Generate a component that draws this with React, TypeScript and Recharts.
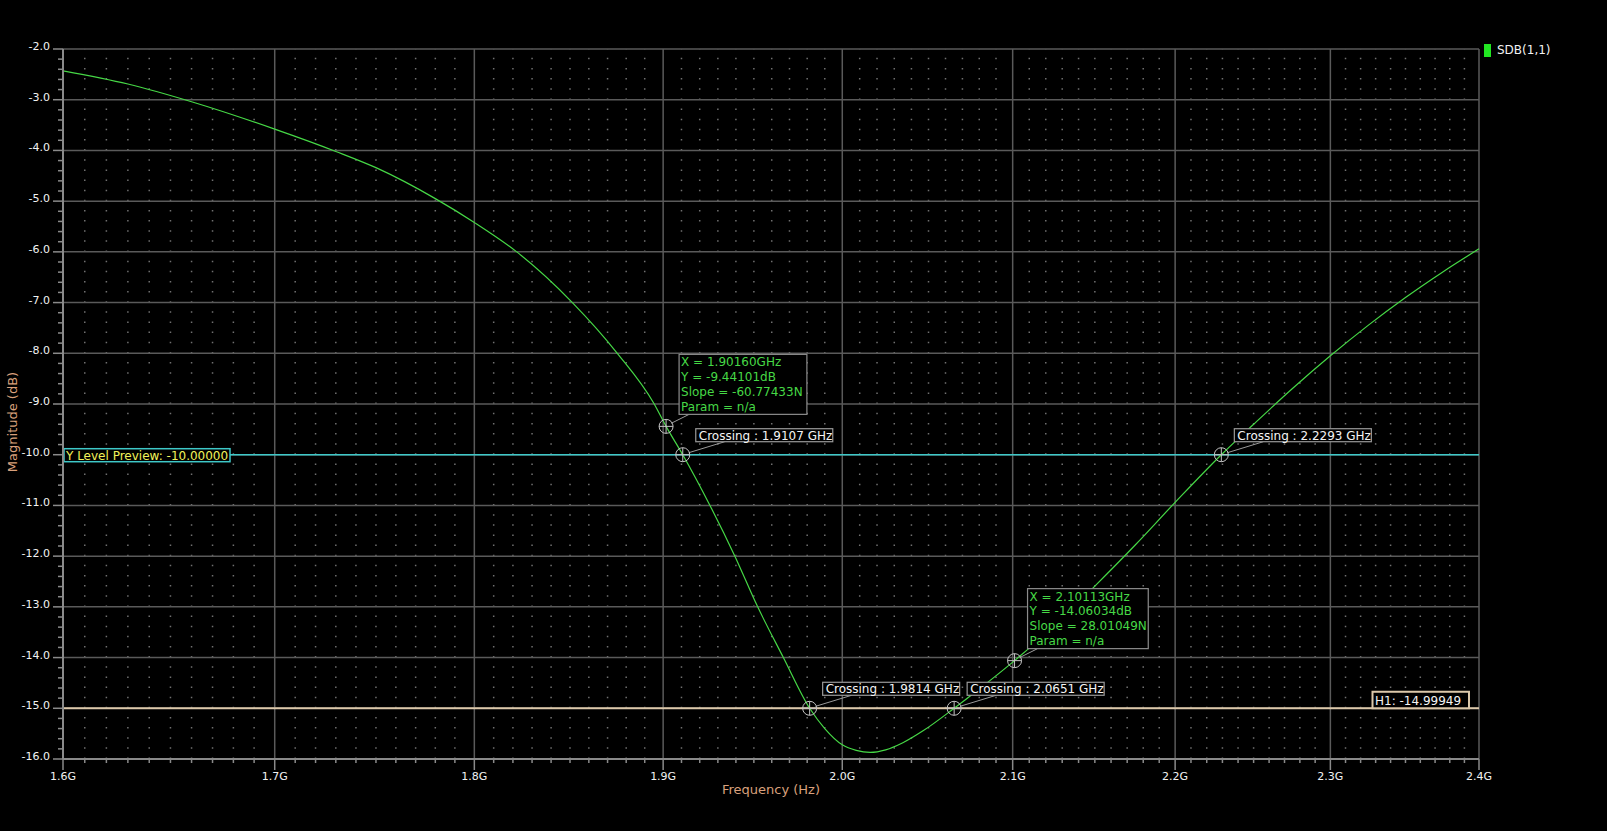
import React from 'react';
import { LineChart, Line, XAxis, YAxis, ReferenceLine, ReferenceDot } from 'recharts';

// ---- data ----
const freqGHz = [
  1.6, 1.63, 1.66, 1.7, 1.73, 1.75, 1.78, 1.8, 1.822, 1.851, 1.875, 1.895, 1.9016, 1.9107,
  1.9255, 1.9393, 1.952, 1.9664, 1.9814, 1.99, 2.0, 2.008, 2.016, 2.025, 2.035, 2.047, 2.0651,
  2.08, 2.10113, 2.125, 2.15, 2.175, 2.2, 2.2293, 2.25, 2.275, 2.3, 2.325, 2.35, 2.375, 2.4,
];
const sdb11 = [
  -2.43, -2.69, -3.04, -3.58, -4.02, -4.34, -4.95, -5.42, -6.0, -6.99, -7.99, -8.99, -9.441, -10.0,
  -10.99, -11.99, -12.99, -13.99, -15.0, -15.4, -15.72, -15.83, -15.87, -15.82, -15.68, -15.44, -15.0,
  -14.62, -14.06, -13.38, -12.59, -11.78, -10.94, -10.0, -9.4, -8.7, -8.05, -7.45, -6.9, -6.4, -5.94,
];

const xMajorTicks = [1.6, 1.7, 1.8, 1.9, 2.0, 2.1, 2.2, 2.3, 2.4];
const xTickLabels = ['1.6G', '1.7G', '1.8G', '1.9G', '2.0G', '2.1G', '2.2G', '2.3G', '2.4G'];
const yMajorTicks = [-2, -3, -4, -5, -6, -7, -8, -9, -10, -11, -12, -13, -14, -15, -16];
const yTickLabels = ['-2.0', '-3.0', '-4.0', '-5.0', '-6.0', '-7.0', '-8.0', '-9.0', '-10.0', '-11.0', '-12.0', '-13.0', '-14.0', '-15.0', '-16.0'];

const markerX = [1.9016, 2.10113];
const markerY = [-9.44101, -14.06034];
const markerSlope = ['-60.77433N', '28.01049N'];

const crossingX = [1.9107, 1.9814, 2.0651, 2.2293];
const crossingY = [-10, -15, -15, -10];
const crossingText = ['1.9107 GHz', '1.9814 GHz', '2.0651 GHz', '2.2293 GHz'];

const yLevel = -10;
const h1Level = -14.99949;
const seriesName = 'SDB(1,1)';

// minor tick values (grid subdivisions)
const xMinorTicks: number[] = [];
for (let i = 160; i <= 240; i++) if (i % 10 !== 0) xMinorTicks.push(i / 100);
const yMinorTicks: number[] = [];
for (let i = -80; i <= -10; i++) if (i % 5 !== 0) yMinorTicks.push(i / 5);

const xAllTicks = [...xMajorTicks, ...xMinorTicks].sort((a, b) => a - b);
const yAllTicks = [...yMajorTicks, ...yMinorTicks].sort((a, b) => a - b);

const data = freqGHz.map((f, i) => ({ f, v: sdb11[i] }));

const FONT = '"DejaVu Sans", sans-serif';
const AXIS = '#8a8a8a';
const GRID = '#5a5a5a';
const MINOR = '#707070';
const GREEN = '#46d846';
const TAN = '#d9a07c';

const findIdx = (arr: number[], v: number) => arr.findIndex((t) => Math.abs(t - v) < 1e-6);

const XTick = (props: any) => {
  const { x, y, payload } = props;
  const idx = findIdx(xMajorTicks, payload.value);
  const major = idx >= 0;
  return (
    <g>
      <line x1={x} x2={x} y1={y} y2={y + (major ? 11 : 4)} stroke={AXIS} strokeWidth={1.5} />
      {major && (
        <text x={x} y={y + 21} textAnchor="middle" fill="#f2f2f2" fontSize={11} fontFamily={FONT}>
          {xTickLabels[idx]}
        </text>
      )}
    </g>
  );
};

const YTick = (props: any) => {
  const { x, y, payload } = props;
  const idx = findIdx(yMajorTicks, payload.value);
  const major = idx >= 0;
  return (
    <g>
      <line x1={x} x2={x - (major ? 10 : 5)} y1={y} y2={y} stroke={AXIS} strokeWidth={1.5} />
      {major && (
        <text x={x - 13} y={y + 1} textAnchor="end" fill="#f2f2f2" fontSize={11} fontFamily={FONT}>
          {yTickLabels[idx]}
        </text>
      )}
    </g>
  );
};

const Crosshair = ({ cx, cy }: { cx: number; cy: number }) => (
  <g>
    <circle cx={cx} cy={cy} r={7} fill="none" stroke="#c4c4c4" strokeWidth={1} />
    <line x1={cx - 7} x2={cx + 7} y1={cy} y2={cy} stroke="#c4c4c4" strokeWidth={1} />
    <line x1={cx} x2={cx} y1={cy - 7} y2={cy + 7} stroke="#c4c4c4" strokeWidth={1} />
  </g>
);

const makeMarkerShape = (i: number) => (props: any) => {
  const { cx, cy } = props;
  const lines = [
    `X = ${markerX[i].toFixed(5)}GHz`,
    `Y = ${markerY[i].toFixed(5)}dB`,
    `Slope = ${markerSlope[i]}`,
    `Param = n/a`,
  ];
  const maxLen = Math.max(...lines.map((l) => l.length));
  const w = maxLen * 7.1;
  const bx = cx + 13;
  const by = cy - 72;
  const h = 60;
  return (
    <g>
      <line x1={cx + 5} y1={cy - 3} x2={cx + 23} y2={by + h} stroke="#9a9a9a" strokeWidth={1} />
      <rect x={bx} y={by} width={w} height={h} fill="#000" stroke="#8c8c8c" strokeWidth={1.2} />
      {lines.map((l, k) => (
        <text key={k} x={bx + 2} y={by + 12 + k * 14.8} fill={GREEN} fontSize={12} fontFamily={FONT}>
          {l}
        </text>
      ))}
      <Crosshair cx={cx} cy={cy} />
    </g>
  );
};

const makeCrossingShape = (i: number) => (props: any) => {
  const { cx, cy } = props;
  const bx = cx + 13;
  const by = cy - 26;
  return (
    <g>
      <line x1={cx + 6} y1={cy - 2} x2={cx + 42} y2={by + 13} stroke="#9a9a9a" strokeWidth={1} />
      <rect x={bx} y={by} width={137} height={13} fill="#000" stroke="#9a9a9a" strokeWidth={1.2} />
      <text x={bx + 3} y={by + 11} fill="#f4f4f4" fontSize={12} fontFamily={FONT}>
        {`Crossing : ${crossingText[i]}`}
      </text>
      <Crosshair cx={cx} cy={cy} />
    </g>
  );
};

const YLevelLabel = (props: any) => {
  const vb = props.viewBox || {};
  const left = Math.min(vb.x, vb.x + (vb.width || 0));
  const y = vb.y;
  return (
    <g>
      <rect x={left + 1} y={y - 6} width={166} height={13} fill="#000" stroke="#3ec8c8" strokeWidth={1.5} />
      <text x={left + 3} y={y + 5} fill="#f2f25a" fontSize={12} fontFamily={FONT}>
        {`Y Level Preview: ${yLevel.toFixed(5)}`}
      </text>
    </g>
  );
};

const H1Label = (props: any) => {
  const vb = props.viewBox || {};
  const right = Math.max(vb.x, vb.x + (vb.width || 0));
  const y = vb.y;
  return (
    <g>
      <rect x={right - 106.5} y={y - 16.5} width={96.5} height={16.5} fill="#000" stroke="#dcc8aa" strokeWidth={2} />
      <text x={right - 104} y={y - 3.5} fill="#f4f4f4" fontSize={12} fontFamily={FONT}>
        {`H1: ${h1Level.toFixed(5)}`}
      </text>
    </g>
  );
};

const YAxisTitle = (props: any) => {
  const vb = props.viewBox || {};
  const cy = vb.y + vb.height / 2 + 18;
  return (
    <text
      x={12.5}
      y={cy}
      transform={`rotate(-90 12.5 ${cy})`}
      textAnchor="middle"
      dominantBaseline="central"
      fill={TAN}
      fontSize={13}
      fontFamily={FONT}
    >
      Magnitude (dB)
    </text>
  );
};

const XAxisTitle = (props: any) => {
  const vb = props.viewBox || {};
  const cx = vb.x + vb.width / 2;
  return (
    <text x={cx} y={vb.y + 35} textAnchor="middle" fill={TAN} fontSize={13} fontFamily={FONT}>
      Frequency (Hz)
    </text>
  );
};

export default function App() {
  return (
    <div style={{ position: 'absolute', left: 0, top: 0, width: 1607, height: 831, background: '#000', overflow: 'hidden' }}>
      <LineChart width={1607} height={831} data={data} margin={{ top: 49, right: 128, bottom: 0, left: 0 }}>
        <XAxis
          dataKey="f"
          type="number"
          scale="log"
          domain={[1.6, 2.4]}
          allowDataOverflow
          ticks={xAllTicks}
          interval={0}
          tickSize={0}
          tickMargin={0}
          tick={<XTick />}
          tickLine={false}
          height={72}
          axisLine={{ stroke: AXIS, strokeWidth: 2 }}
          label={<XAxisTitle />}
        />
        <YAxis
          type="number"
          domain={[-16, -2]}
          allowDataOverflow
          ticks={yAllTicks}
          interval={0}
          tickSize={0}
          tickMargin={0}
          tick={<YTick />}
          tickLine={false}
          width={63}
          axisLine={{ stroke: AXIS, strokeWidth: 2 }}
          label={<YAxisTitle />}
        />
        {xMinorTicks.map((t) => (
          <ReferenceLine key={`mx${t}`} x={t} stroke={MINOR} strokeWidth={1.5} strokeDasharray="1.5 8.64" />
        ))}
        {xMajorTicks.map((t) => (
          <ReferenceLine key={`gx${t}`} x={t} stroke={GRID} strokeWidth={1.5} />
        ))}
        {yMajorTicks.map((t) => (
          <ReferenceLine key={`gy${t}`} y={t} stroke={GRID} strokeWidth={1.5} />
        ))}
        <ReferenceLine y={yLevel} stroke="#3ec8c8" strokeWidth={1.5} label={<YLevelLabel />} />
        <ReferenceLine y={h1Level} stroke="#dcc8aa" strokeWidth={2.2} label={<H1Label />} />
        <Line dataKey="v" type="monotone" stroke={GREEN} strokeWidth={1.2} dot={false} activeDot={false} isAnimationActive={false} />
        {markerX.map((mx, i) => (
          <ReferenceDot key={`m${i}`} x={mx} y={markerY[i]} r={7} shape={makeMarkerShape(i)} />
        ))}
        {crossingX.map((cxv, i) => (
          <ReferenceDot key={`c${i}`} x={cxv} y={crossingY[i]} r={7} shape={makeCrossingShape(i)} />
        ))}
      </LineChart>
      <div style={{ position: 'absolute', left: 1484, top: 44, width: 7, height: 13, background: '#22e622' }} />
      <div
        style={{
          position: 'absolute',
          left: 1497,
          top: 43,
          fontFamily: FONT,
          fontSize: 12,
          lineHeight: '15px',
          color: '#f2f2f2',
          whiteSpace: 'nowrap',
        }}
      >
        {seriesName}
      </div>
    </div>
  );
}
